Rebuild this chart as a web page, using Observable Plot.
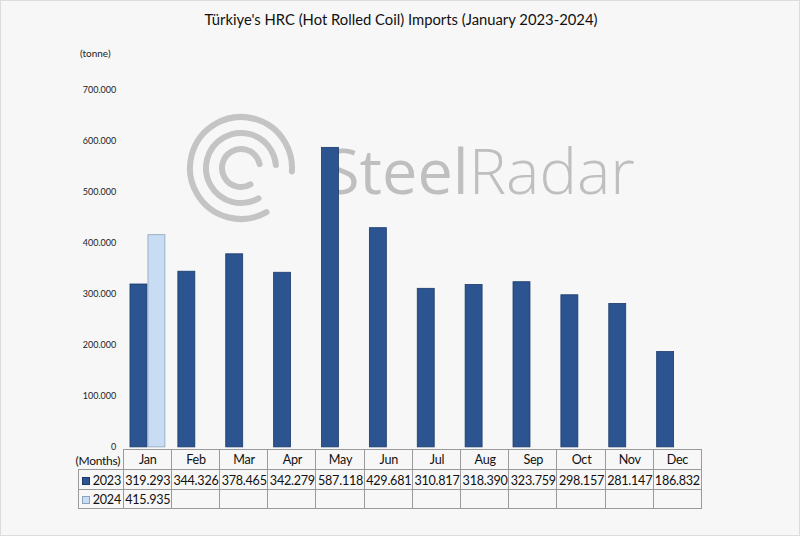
<!DOCTYPE html>
<html>
<head>
<meta charset="utf-8">
<script src="https://cdn.jsdelivr.net/npm/d3@7"></script>
<script src="https://cdn.jsdelivr.net/npm/@observablehq/plot@0.6"></script>
<style>
  html, body { margin: 0; padding: 0; background: #f7f7f7; }
  #frame { position: relative; width: 798px; height: 534px; background: #f7f7f7; border: 1px solid #dcdcdc; overflow: hidden; font-family: Lato, "Open Sans", sans-serif; }
  #title { position: absolute; top: 9px; left: 0; width: 800px; text-align: center; font-size: 14.8px; color: #111; }
  #unit { position: absolute; top: 46px; left: 79px; font-size: 10px; color: #222; }
  #wm { position: absolute; left: 0; top: 0; }
  #chart { position: absolute; left: 0; top: 0; }
  #chart svg { overflow: visible; }
  .cell { position: absolute; box-sizing: border-box; font-size: 12.6px; letter-spacing: -0.25px; color: #111; text-align: center; line-height: 19px; white-space: nowrap; }
  .sw { display: inline-block; width: 8px; height: 8px; margin-right: 3px; vertical-align: 0px; box-sizing: border-box; }
</style>
</head>
<body>
<div id="frame">
  <svg id="wm" width="800" height="300">
    <g fill="none" stroke="#c4c4c4" stroke-width="6" stroke-linecap="round">
      <circle cx="240" cy="167" r="51" stroke-dasharray="270 50" transform="rotate(60 240 167)"></circle>
      <circle cx="240" cy="167" r="35" stroke-dasharray="180 40" transform="rotate(60 240 167)"></circle>
      <circle cx="240" cy="167" r="19" stroke-dasharray="95 25" transform="rotate(60 240 167)"></circle>
    </g>
    <text x="324" y="193" font-family="Open Sans, Lato, sans-serif" font-size="63" fill="#bfbfbf"><tspan font-weight="400">Steel</tspan><tspan font-weight="300">Radar</tspan></text>
  </svg>
  <div id="chart"></div>
  <div id="title">Türkiye's HRC (Hot Rolled Coil) Imports (January 2023-2024)</div>
  <div id="unit">(tonne)</div>
  <div id="table"></div>
</div>
<script>
const months = ["Jan","Feb","Mar","Apr","May","Jun","Jul","Aug","Sep","Oct","Nov","Dec"];
const years = ["2023","2024"];
const values2023 = [319293, 344326, 378465, 342279, 587118, 429681, 310817, 318390, 323759, 298157, 281147, 186832];
const values2024 = [415935];
const yTicks = [0, 100000, 200000, 300000, 400000, 500000, 600000, 700000];
const colors = {"2023": "#2b5491", "2024": "#c8dcf3"};
const strokes = {"2023": "#1b3a6b", "2024": "#8da3bd"};

const data = [];
values2023.forEach((v, i) => data.push({month: months[i], year: "2023", value: v}));
values2024.forEach((v, i) => data.push({month: months[i], year: "2024", value: v}));

const fmt = v => v === 0 ? "0" : d3.format(",.0f")(v).replace(/,/g, ".");
const fmt3 = v => (v / 1000).toFixed(3);

const marginLeft = 121.7, marginRight = 100;
const plot = Plot.plot({
  width: 800,
  height: 460,
  marginLeft,
  marginRight,
  marginTop: 89,
  marginBottom: 13,
  style: {background: "transparent", fontFamily: "Lato, 'Open Sans', sans-serif", fontSize: "9px", color: "#222"},
  fx: {domain: months, padding: 0, axis: null},
  x: {domain: years, paddingInner: 0.05, paddingOuter: 0.35, axis: null},
  y: {domain: [0, 700000], ticks: yTicks, tickFormat: fmt, tickSize: 0, tickPadding: 8, label: null},
  color: {domain: years, range: years.map(y => colors[y])},
  marks: [
    Plot.barY(data, {fx: "month", x: "year", y: "value", fill: "year", stroke: d => strokes[d.year], strokeWidth: 0.8})
  ]
});
document.getElementById("chart").appendChild(plot);

// data table below the chart, aligned with the facet bands
const table = document.getElementById("table");
const colW = (800 - marginLeft - marginRight) / months.length;
const rowTop = [448, 467.5, 487.5], rowH = [19.5, 20, 19.5];
const labelLeft = 77;
function cell(left, top, w, h, html, borders) {
  const d = document.createElement("div");
  d.className = "cell";
  d.style.left = left + "px"; d.style.top = top + "px";
  d.style.width = w + "px"; d.style.height = h + "px";
  d.style.lineHeight = h + "px";
  d.style.borderLeft = borders.l ? "1px solid #9a9a9a" : "none";
  d.style.borderTop = borders.t ? "1px solid #9a9a9a" : "none";
  d.style.borderRight = borders.r ? "1px solid #9a9a9a" : "none";
  d.style.borderBottom = borders.b ? "1px solid #9a9a9a" : "none";
  d.innerHTML = html;
  table.appendChild(d);
  return d;
}
// header
const mh = cell(labelLeft - 5, rowTop[0] + 2, marginLeft - labelLeft + 5, rowH[0], "(Months)", {});
mh.style.fontSize = "12px";
months.forEach((m, i) => cell(marginLeft + i * colW, rowTop[0], colW + 1, rowH[0] + 1, m, {l: 1, t: 1, r: i === months.length - 1}));
const rows = [values2023, values2024];
years.forEach((y, r) => {
  const top = rowTop[r + 1], h = rowH[r + 1];
  cell(labelLeft, top, marginLeft - labelLeft + 1, h + 1,
    `<span class="sw" style="background:${colors[y]};border:1px solid ${strokes[y]}"></span>${y}`,
    {l: 1, t: 1, b: r === years.length - 1});
  months.forEach((m, i) => {
    const v = rows[r][i];
    cell(marginLeft + i * colW, top, colW + 1, h + 1, v === undefined ? "" : fmt3(v),
      {l: 1, t: 1, r: i === months.length - 1, b: r === years.length - 1});
  });
});
</script>
</body>
</html>
